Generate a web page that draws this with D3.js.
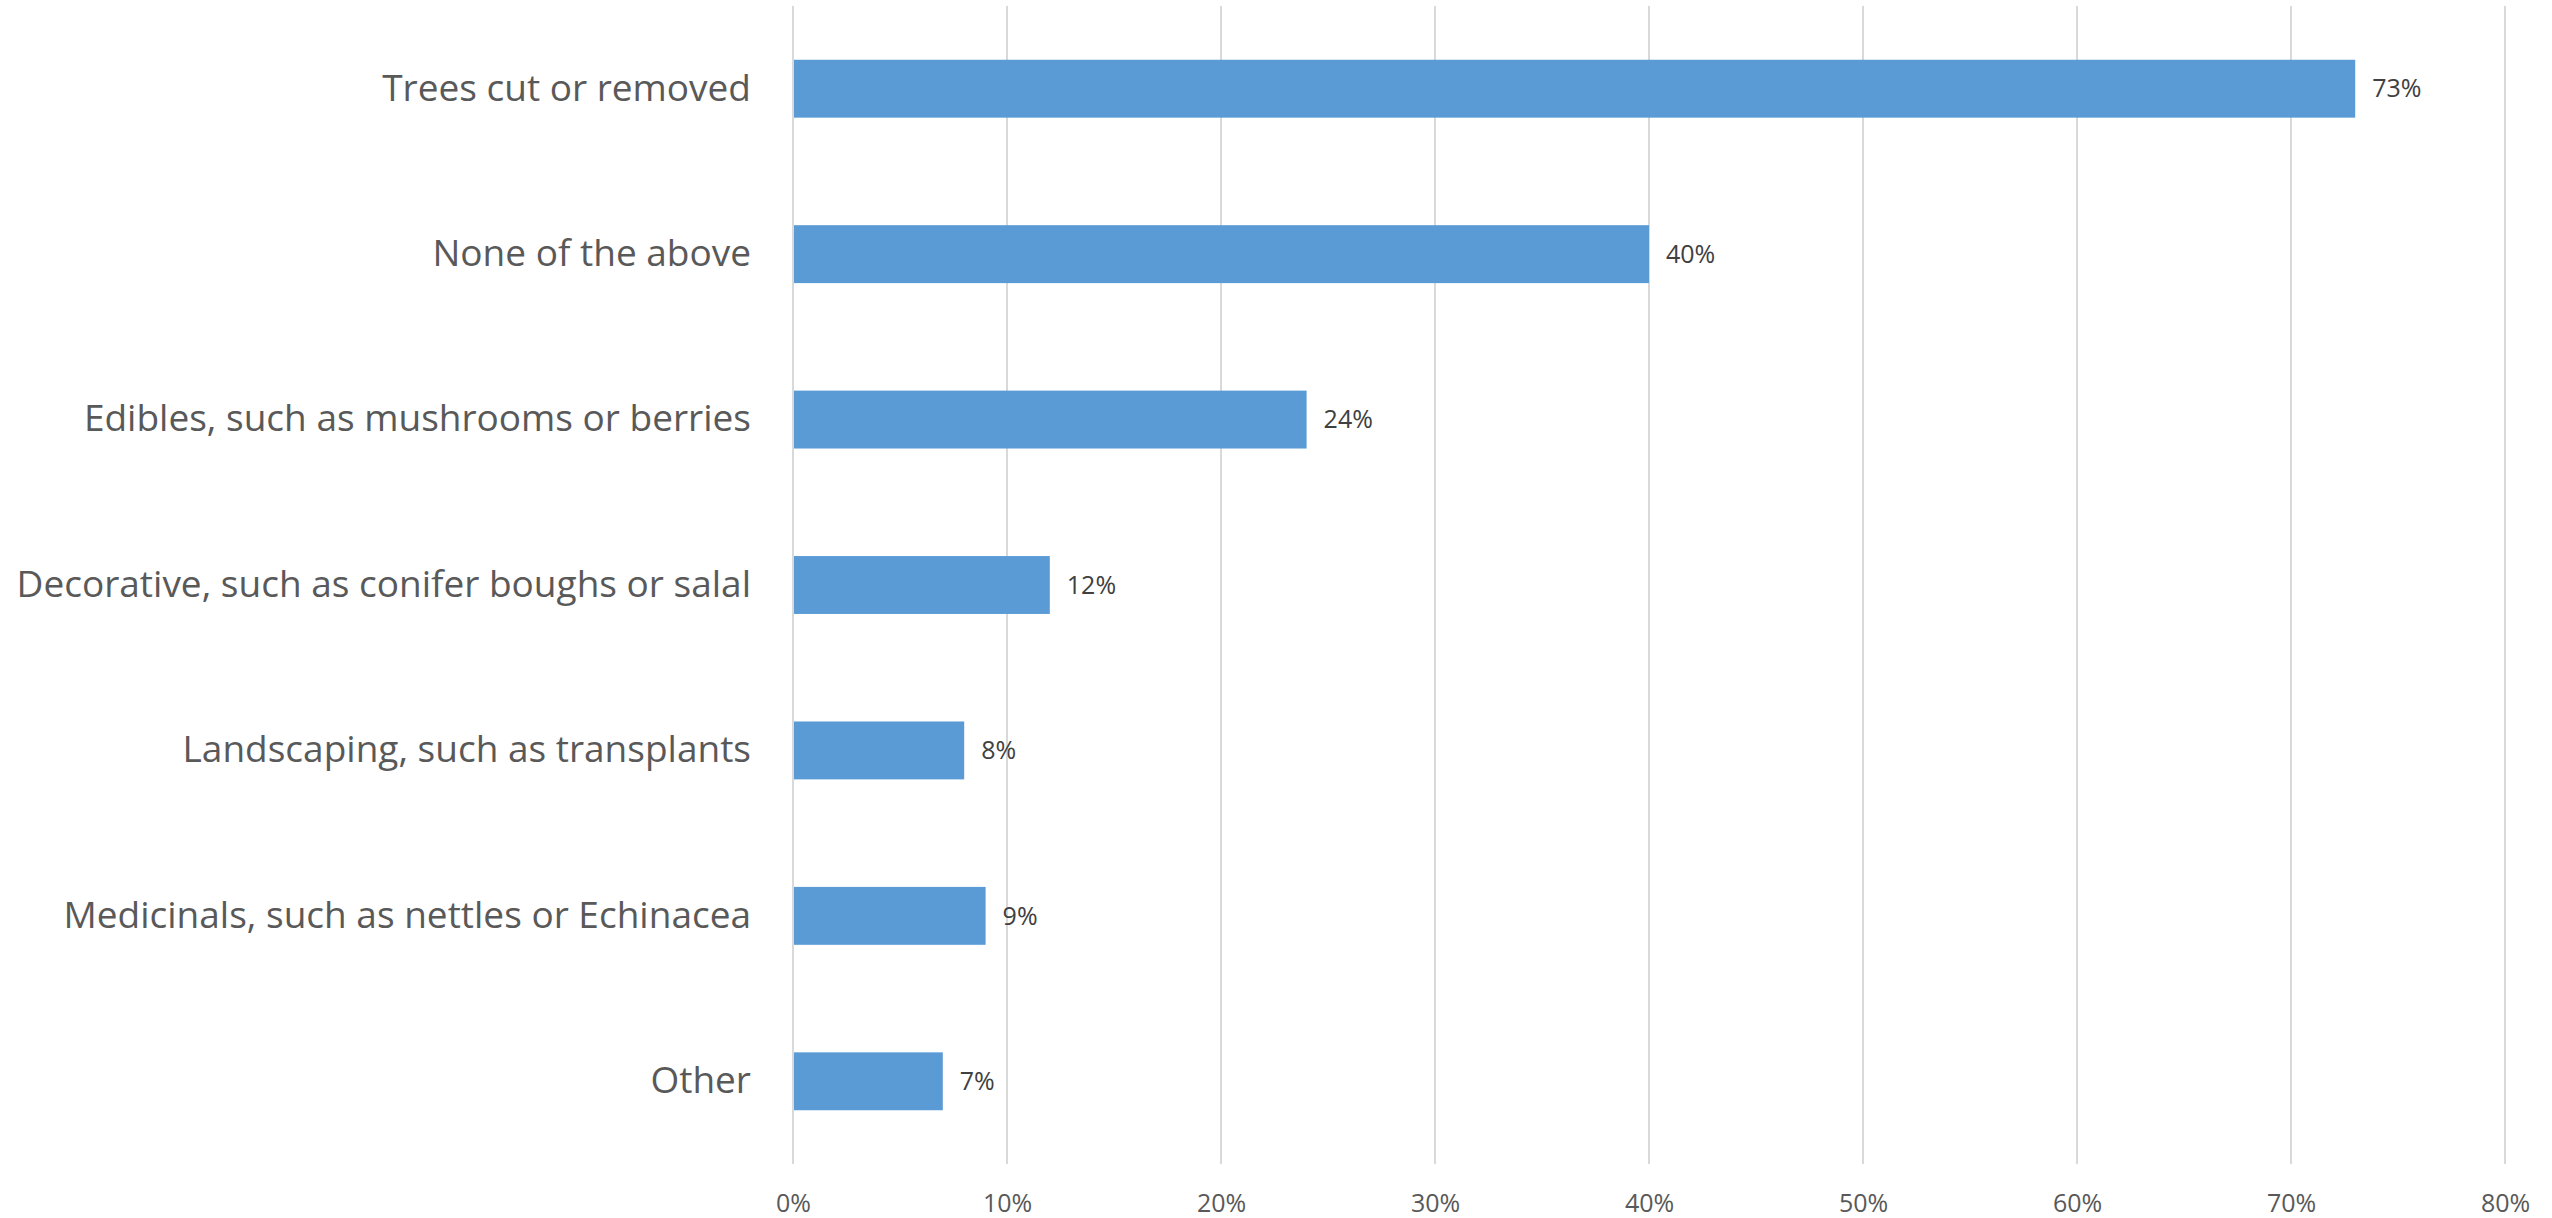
<!DOCTYPE html>
<html>
<head>
<meta charset="utf-8">
<script src="https://cdn.jsdelivr.net/npm/d3@7"></script>
<style>
  html, body { margin: 0; padding: 0; background: #ffffff; }
  svg { display: block; }
</style>
</head>
<body>
<svg id="chart" width="2552" height="1218"></svg>
<script>
const categories = [
  "Trees cut or removed",
  "None of the above",
  "Edibles, such as mushrooms or berries",
  "Decorative, such as conifer boughs or salal",
  "Landscaping, such as transplants",
  "Medicinals, such as nettles or Echinacea",
  "Other"
];
const values = [73, 40, 24, 12, 8, 9, 7];
const tickValues = [0, 10, 20, 30, 40, 50, 60, 70, 80];

const svg = d3.select("#chart");
const plotLeft = 793, plotRight = 2505, plotTop = 6, plotBottom = 1164;

const x = d3.scaleLinear().domain([0, 80]).range([plotLeft, plotRight]);
const y = d3.scaleBand().domain(categories).range([plotTop, plotBottom])
  .paddingInner(0.65).paddingOuter(0.325);

// gridlines
svg.append("g").selectAll("line").data(tickValues).join("line")
  .attr("x1", d => x(d)).attr("x2", d => x(d))
  .attr("y1", plotTop).attr("y2", plotBottom)
  .attr("stroke", "#d9d9d9").attr("stroke-width", 2);

// bars
svg.append("g").selectAll("rect").data(values).join("rect")
  .attr("x", x(0) + 1)
  .attr("y", (d, i) => y(categories[i]))
  .attr("width", d => x(d) - x(0) - 1)
  .attr("height", y.bandwidth())
  .attr("fill", "#5b9bd5");

// data labels
svg.append("g").selectAll("text").data(values).join("text")
  .attr("x", d => x(d) + 17)
  .attr("y", (d, i) => y(categories[i]) + y.bandwidth() / 2)
  .attr("dy", "0.35em")
  .attr("font-family", "'Open Sans', sans-serif")
  .attr("font-size", 25)
  .attr("fill", "#404040")
  .text(d => d + "%");

// x axis labels
const xAxis = d3.axisBottom(x).tickValues(tickValues).tickFormat(d => d + "%").tickSize(0).tickPadding(0);
const gx = svg.append("g").attr("transform", `translate(0, ${plotBottom})`).call(xAxis);
gx.select(".domain").remove();
gx.selectAll("text")
  .attr("y", 39)
  .attr("dy", "0.35em")
  .attr("font-family", "'Open Sans', sans-serif")
  .attr("font-size", 25)
  .attr("fill", "#595959");

// y axis labels
const yAxis = d3.axisLeft(y).tickSize(0).tickPadding(42);
const gy = svg.append("g").attr("transform", `translate(${plotLeft}, 0)`).call(yAxis);
gy.select(".domain").remove();
gy.selectAll("text")
  .attr("font-family", "'Open Sans', sans-serif")
  .attr("font-size", 37)
  .attr("fill", "#595959");
</script>
</body>
</html>
